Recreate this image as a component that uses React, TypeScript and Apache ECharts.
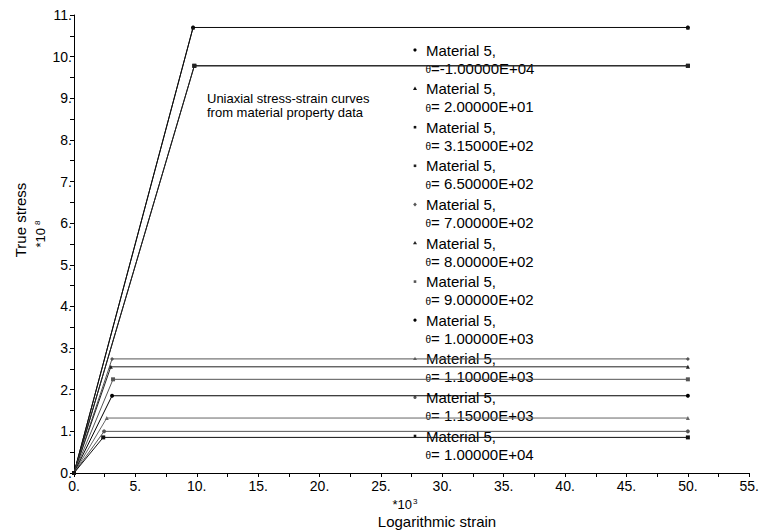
import React, { useEffect, useRef } from "react";
import * as echarts from "echarts";

// Temperatures (legend labels) of the 11 curves
const thetaLabels = [
  "-1.00000E+04",
  " 2.00000E+01",
  " 3.15000E+02",
  " 6.50000E+02",
  " 7.00000E+02",
  " 8.00000E+02",
  " 9.00000E+02",
  " 1.00000E+03",
  " 1.10000E+03",
  " 1.15000E+03",
  " 1.00000E+04",
];
// strain (*10^-3) at the yield point
const yieldStrain = [9.7, 9.7, 9.8, 9.8, 3.1, 3.0, 3.18, 3.1, 2.67, 2.45, 2.38];
// true stress (*10^8) at the yield point (plateau)
const yieldStress = [10.7, 10.7, 9.78, 9.78, 2.74, 2.55, 2.25, 1.855, 1.32, 1.0, 0.855];
// last strain of every curve
const maxStrain = 50;

const symbols = ["circle", "triangle", "rect", "rect", "diamond", "triangle", "rect", "circle", "triangle", "circle", "rect"];
const colors = ["#000", "#111", "#111", "#222", "#555", "#222", "#555", "#000", "#666", "#555", "#111"];

const FONT = "'Liberation Sans', Arial, Helvetica, sans-serif";

export default function App() {
  const ref = useRef<HTMLDivElement>(null);
  useEffect(() => {
    if (!ref.current) return;
    const chart = echarts.init(ref.current, undefined, { renderer: "svg" });

    const legendTop = 50;
    const legendGap = 38.6;
    const graphic: any[] = [];
    thetaLabels.forEach((t, i) => {
      const y = legendTop + i * legendGap;
      const sym = symbols[i];
      const c = colors[i];
      if (sym === "circle") {
        graphic.push({ type: "circle", shape: { cx: 415, cy: y, r: 1.6 }, style: { fill: c } });
      } else if (sym === "rect") {
        graphic.push({ type: "rect", shape: { x: 413.7, y: y - 1.3, width: 2.6, height: 2.6 }, style: { fill: c } });
      } else if (sym === "triangle") {
        graphic.push({ type: "polygon", shape: { points: [[415, y - 2], [417, y + 1.3], [413, y + 1.3]] }, style: { fill: c } });
      } else {
        graphic.push({ type: "polygon", shape: { points: [[415, y - 2], [416.8, y], [415, y + 2], [413.2, y]] }, style: { fill: c } });
      }
      graphic.push({
        type: "text",
        style: { text: "Material 5,", x: 426, y, font: `15px ${FONT}`, fill: "#000", textAlign: "left", textVerticalAlign: "middle", align: "left", verticalAlign: "middle" },
      });
      graphic.push({
        type: "text",
        style: { text: "θ", x: 425.5, y: y + 19.5, font: `10px ${FONT}`, fill: "#000", textAlign: "left", textVerticalAlign: "middle", align: "left", verticalAlign: "middle" },
      });
      graphic.push({
        type: "text",
        style: { text: "=" + t, x: 431, y: y + 18, font: `15px ${FONT}`, fill: "#000", textAlign: "left", textVerticalAlign: "middle", align: "left", verticalAlign: "middle" },
      });
    });

    graphic.push({
      type: "text",
      style: {
        text: "Uniaxial stress-strain curves\nfrom material property data",
        x: 207,
        y: 91.5,
        font: `13px ${FONT}`,
        lineHeight: 14,
        fill: "#000",
        textAlign: "left",
        textVerticalAlign: "top",
        align: "left",
        verticalAlign: "top",
      },
    });
    graphic.push({
      type: "text",
      x: 20,
      y: 220,
      rotation: Math.PI / 2,
      style: { text: "True stress", x: 0, y: 0, font: `15px ${FONT}`, fill: "#000", textAlign: "center", textVerticalAlign: "middle", align: "center", verticalAlign: "middle" },
    });
    graphic.push({
      type: "text",
      x: 40,
      y: 234,
      rotation: Math.PI / 2,
      style: {
        text: "*10{s|8}",
        x: 0,
        y: 0,
        font: `13px ${FONT}`,
        fill: "#000",
        textAlign: "center",
        textVerticalAlign: "middle",
        align: "center",
        verticalAlign: "middle",
        rich: { s: { fontSize: 8, fontFamily: FONT, verticalAlign: "top", padding: [0, 0, 0, 3] } },
      },
    });
    graphic.push({
      type: "text",
      style: {
        text: "*10{s|3}",
        x: 405,
        y: 504,
        font: `13px ${FONT}`,
        fill: "#000",
        textAlign: "center",
        textVerticalAlign: "middle",
        align: "center",
        verticalAlign: "middle",
        rich: { s: { fontSize: 8, fontFamily: FONT, verticalAlign: "top", padding: [0, 0, 0, 1] } },
      },
    });
    graphic.push({
      type: "text",
      style: { text: "Logarithmic strain", x: 437, y: 521, font: `15px ${FONT}`, fill: "#000", textAlign: "center", textVerticalAlign: "middle", align: "center", verticalAlign: "middle" },
    });

    const option: any = {
      animation: false,
      backgroundColor: "#fff",
      grid: { left: 74, right: 9, top: 15, bottom: 58 },
      xAxis: {
        type: "value",
        min: 0,
        max: 55,
        interval: 2.5,
        axisLine: { show: true, onZero: false, lineStyle: { color: "#000", width: 1 } },
        axisTick: { show: true, length: 4, lineStyle: { color: "#000" } },
        axisLabel: {
          color: "#000",
          fontSize: 14,
          fontFamily: FONT,
          margin: 6,
          showMinLabel: true,
          showMaxLabel: true,
          formatter: (v: number) => (Math.abs(v % 5) < 1e-9 ? `${v}.` : ""),
        },
        splitLine: { show: false },
      },
      yAxis: {
        type: "value",
        min: 0,
        max: 11,
        interval: 0.5,
        axisLine: { show: true, onZero: false, lineStyle: { color: "#000", width: 1 } },
        axisTick: { show: true, length: 4, lineStyle: { color: "#000" } },
        axisLabel: {
          color: "#000",
          fontSize: 14,
          fontFamily: FONT,
          margin: 2,
          showMinLabel: true,
          showMaxLabel: true,
          formatter: (v: number) => (Math.abs(v % 1) < 1e-9 ? `${v}.` : ""),
        },
        splitLine: { show: false },
      },
      series: thetaLabels.map((t, i) => ({
        type: "line",
        name: "Material 5, θ=" + t,
        data: [
          [0, 0],
          [yieldStrain[i], yieldStress[i]],
          [maxStrain, yieldStress[i]],
        ],
        symbol: symbols[i],
        symbolSize: 4,
        showSymbol: true,
        showAllSymbol: true,
        lineStyle: { color: colors[i], width: 1 },
        itemStyle: { color: colors[i] },
        emphasis: { disabled: true },
      })),
      graphic,
    };
    chart.setOption(option);
    return () => chart.dispose();
  }, []);
  return <div ref={ref} style={{ width: 762, height: 531, position: "absolute", left: 0, top: 0 }} />;
}
